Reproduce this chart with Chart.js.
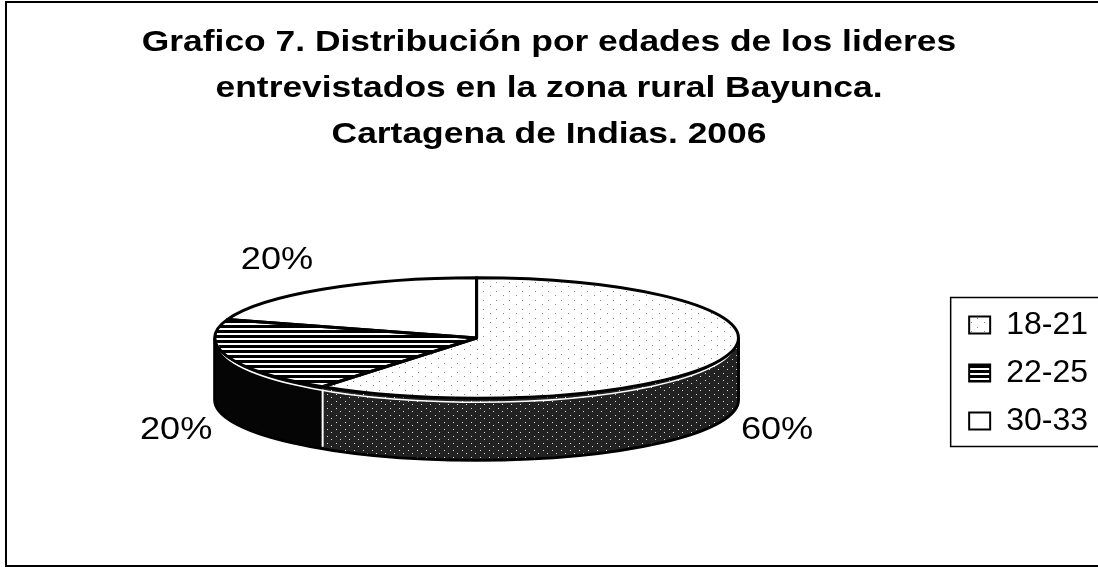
<!DOCTYPE html>
<html>
<head>
<meta charset="utf-8">
<script src="https://cdn.jsdelivr.net/npm/chart.js@4.4.1/dist/chart.umd.min.js"></script>
<style>
  html, body { margin: 0; padding: 0; background: #fff; }
  #wrap { position: relative; width: 1098px; height: 567px; overflow: hidden; }
  #frame { position: absolute; left: 5px; top: 1px; width: 1100px; height: 566px; border: 2px solid #000; box-sizing: border-box; }
  canvas { position: absolute; left: 0; top: 0; }
</style>
</head>
<body>
<div id="wrap"><div id="frame"></div><canvas id="chart" width="1098" height="567"></canvas></div>
<script>
const TITLE = ['Grafico 7. Distribución por edades de los lideres', 'entrevistados en la zona rural Bayunca.', 'Cartagena de Indias. 2006'];
const AGE_GROUPS = ['18-21', '22-25', '30-33'];
const SHARES = [60, 20, 20];

const FONT = 'Liberation Sans, Arial, Helvetica, sans-serif';

// small tiles standing in for the scanned hatch fills
function makePattern(w, h, bg, fg, rects) {
  const c = document.createElement('canvas');
  c.width = w; c.height = h;
  const g = c.getContext('2d');
  g.fillStyle = bg; g.fillRect(0, 0, w, h);
  g.fillStyle = fg;
  rects.forEach(([x, y, rw, rh]) => g.fillRect(x, y, rw || 1, rh || 1));
  return g.createPattern(c, 'repeat');
}

const speckled = makePattern(13, 9, '#ffffff', '#888', [[2, 3], [9, 7]]);
const striped = makePattern(4, 5, '#ffffff', '#000', [[0, 0, 4, 3]]);
const darkSpeckled = makePattern(9, 7, '#222', '#ddd', [[3, 2], [7, 5]]);
const PATTERNS = [speckled, striped, darkSpeckled];

const TOP_FILLS = [speckled, striped, '#ffffff'];
const SIDE_FILLS = [darkSpeckled, '#050505', '#ffffff'];

function visibleSpans(s, e) {
  const out = [];
  for (let k = -1; k <= 1; k++) {
    const lo = Math.max(s, 2 * Math.PI * k);
    const hi = Math.min(e, Math.PI + 2 * Math.PI * k);
    if (hi > lo) out.push([lo, hi]);
  }
  return out;
}

function geometry(chart, opts) {
  const arcs = chart.getDatasetMeta(0).data;
  const a0 = arcs[0];
  const R = a0.outerRadius;
  const rx = R * opts.stretch;
  const ry = rx * opts.tilt;
  const d = opts.depth;
  return { arcs, R, rx, ry, d, x0: a0.x, y0: a0.y, cx: a0.x, cy: a0.y - d / 2 - opts.lift };
}

const pie3d = {
  id: 'pie3d',
  afterInit(chart, args, opts) {
    // the scanned title is set wider than its height suggests
    const tb = chart.titleBlock;
    if (!tb) return;
    const orig = tb.draw.bind(tb);
    tb.draw = function () {
      const ctx = chart.ctx;
      const mid = chart.width / 2;
      ctx.save();
      ctx.translate(mid, 0);
      ctx.scale(opts.titleStretch, 1);
      ctx.translate(-mid, 0);
      orig();
      ctx.restore();
    };
  },
  beforeDatasetsDraw(chart, args, opts) {
    const ctx = chart.ctx;
    const { arcs, R, rx, ry, d, x0, y0, cx, cy } = geometry(chart, opts);

    // cylinder walls
    arcs.forEach((arc, i) => {
      visibleSpans(arc.startAngle, arc.endAngle).forEach(([a, b]) => {
        ctx.beginPath();
        ctx.ellipse(cx, cy, rx, ry, 0, a, b);
        ctx.ellipse(cx, cy + d, rx, ry, 0, b, a, true);
        ctx.closePath();
        ctx.fillStyle = SIDE_FILLS[i];
        ctx.fill();
      });
    });

    // top face: library arcs squashed into an ellipse
    ctx.save();
    ctx.translate(cx, cy);
    ctx.scale(rx / R, ry / R);
    ctx.translate(-x0, -y0);
    const inv = ctx.getTransform().inverse();
    PATTERNS.forEach(p => p.setTransform(inv));
    arcs.forEach(arc => arc.draw(ctx));
    ctx.restore();
    PATTERNS.forEach(p => p.setTransform(new DOMMatrix()));

    // thin highlight just under the front rim
    ctx.save();
    ctx.strokeStyle = '#fff';
    ctx.lineWidth = 1.5;
    ctx.beginPath();
    ctx.ellipse(cx, cy + 4, rx - 3, ry, 0, 0.05, Math.PI - 0.05);
    ctx.stroke();
    // slice edges on the wall
    arcs.forEach(arc => {
      const a = arc.startAngle;
      if (Math.sin(a) > 0.02) {
        const px = cx + rx * Math.cos(a), py = cy + ry * Math.sin(a);
        ctx.lineWidth = 2;
        ctx.beginPath();
        ctx.moveTo(px, py + 3);
        ctx.lineTo(px, py + d - 2);
        ctx.stroke();
      }
    });

    ctx.strokeStyle = '#000';
    ctx.lineWidth = 3;
    ctx.lineJoin = 'round';
    ctx.beginPath();
    ctx.moveTo(cx + rx, cy);
    ctx.lineTo(cx + rx, cy + d);
    ctx.ellipse(cx, cy + d, rx, ry, 0, 0, Math.PI);
    ctx.lineTo(cx - rx, cy);
    ctx.stroke();
    arcs.forEach(arc => {
      ctx.beginPath();
      ctx.moveTo(cx, cy);
      ctx.ellipse(cx, cy, rx, ry, 0, arc.startAngle, arc.endAngle);
      ctx.closePath();
      ctx.stroke();
    });
    ctx.restore();
    return false;
  },
  afterDraw(chart, args, opts) {
    const ctx = chart.ctx;
    const { arcs, rx, ry, d, cx, cy } = geometry(chart, opts);
    const total = SHARES.reduce((s, v) => s + v, 0);
    ctx.save();
    ctx.font = '32px ' + FONT;
    ctx.fillStyle = '#000';
    ctx.textBaseline = 'middle';
    arcs.forEach((arc, i) => {
      const mid = (arc.startAngle + arc.endAngle) / 2;
      const c = Math.cos(mid), s = Math.sin(mid);
      const x = cx + (rx + 16) * c;
      const y = cy + (ry + 36) * s + (s > 0 ? d : 0);
      ctx.save();
      ctx.translate(x, y);
      ctx.scale(1.13, 1);
      ctx.textAlign = c >= 0 ? 'left' : 'right';
      ctx.fillText(Math.round(SHARES[i] / total * 100) + '%', 0, 0);
      ctx.restore();
    });

    // legend frame
    const lg = chart.legend;
    const boxes = lg.legendHitBoxes;
    const top = boxes[0].top - 12;
    const bottom = boxes[boxes.length - 1].top + boxes[boxes.length - 1].height + 9;
    ctx.strokeStyle = '#000';
    ctx.lineWidth = 1.5;
    ctx.strokeRect(lg.left - 2.5, top + 0.5, lg.width + 10, bottom - top);
    ctx.restore();
  }
};

new Chart(document.getElementById('chart'), {
  type: 'pie',
  data: {
    labels: AGE_GROUPS,
    datasets: [{
      data: SHARES,
      backgroundColor: TOP_FILLS,
      borderWidth: 0,
    }],
  },
  plugins: [pie3d],
  options: {
    responsive: false,
    animation: false,
    events: [],
    layout: { padding: 0 },
    plugins: {
      pie3d: { stretch: 1.35, tilt: 0.23, depth: 62, lift: 4, titleStretch: 1.18 },
      tooltip: { enabled: false },
      title: {
        display: true,
        text: TITLE,
        color: '#000',
        font: { family: FONT, size: 30, weight: 'bold', lineHeight: 46 / 30 },
        padding: { top: 20, bottom: 21 },
      },
      legend: {
        position: 'right',
        // empty legend title only pushes the entries down to the middle of the pie
        title: { display: true, text: '', font: { size: 10, lineHeight: 1 }, padding: { top: 169, bottom: 0 } },
        labels: {
          color: '#000',
          font: { family: FONT, size: 32 },
          boxWidth: 21,
          boxHeight: 17,
          padding: 16,
          generateLabels: () => AGE_GROUPS.map((text, i) => ({
            text,
            fillStyle: TOP_FILLS[i],
            strokeStyle: '#000',
            lineWidth: 2,
            hidden: false,
            index: i,
            fontColor: '#000',
          })),
        },
      },
    },
  },
});
</script>
</body>
</html>
